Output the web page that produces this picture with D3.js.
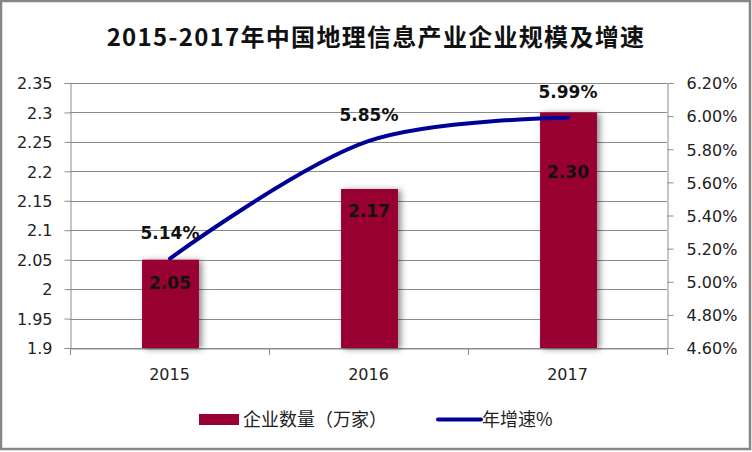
<!DOCTYPE html>
<html><head><meta charset="utf-8">
<script src="https://cdn.jsdelivr.net/npm/d3@7"></script>
<style>body{margin:0;background:#fff}svg{display:block}text{font-family:"DejaVu Sans","Noto Sans CJK SC",sans-serif}</style>
</head><body><svg id="c" width="752" height="452"></svg>
<script>
const categories = ["2015","2016","2017"];
const companies = [2.05, 2.17, 2.30];
const growth = [5.14, 5.85, 5.99];
const leftTicks = [1.9,1.95,2,2.05,2.1,2.15,2.2,2.25,2.3,2.35];
const rightTicks = [4.6,4.8,5.0,5.2,5.4,5.6,5.8,6.0,6.2];
const title = "2015-2017年中国地理信息产业企业规模及增速";
const legendNames = ["企业数量（万家）","年增速%"];

const svg = d3.select("#c");
const m = {l:70, r:667, t:83, b:348};
const x = d3.scaleBand().domain(categories).range([m.l, m.r]);
const yL = d3.scaleLinear().domain([1.9, 2.35]).range([m.b, m.t]);
const yR = d3.scaleLinear().domain([4.6, 6.2]).range([m.b, m.t]);
const grid = "#8c8c8c";

const defs = svg.append("defs");
const f = defs.append("filter").attr("id","sh").attr("x","-30%").attr("y","-30%").attr("width","160%").attr("height","160%");
f.append("feDropShadow").attr("dx",3).attr("dy",1).attr("stdDeviation",3).attr("flood-color","#000").attr("flood-opacity",0.45);

svg.append("rect").attr("x",1).attr("y",1).attr("width",749).attr("height",448).attr("fill","#fff").attr("stroke","#868686").attr("stroke-width",2.5);

svg.append("text").attr("x",376).attr("y",46).attr("text-anchor","middle")
  .style("font-family","'Noto Sans CJK SC',sans-serif").style("font-weight","bold").style("font-size","24px").style("letter-spacing","1.3px").attr("fill","#111").text(title);

// gridlines
svg.append("g").selectAll("line").data(leftTicks).join("line")
  .attr("x1",m.l).attr("x2",m.r).attr("y1",d=>Math.round(yL(d))+0.5).attr("y2",d=>Math.round(yL(d))+0.5)
  .attr("stroke",grid).attr("stroke-width",1);

// axes
const la = svg.append("g").attr("transform",`translate(${m.l+0.5},0)`)
  .call(d3.axisLeft(yL).tickValues(leftTicks).tickFormat(d=>String(d)).tickSize(6).tickPadding(12));
const ra = svg.append("g").attr("transform",`translate(${m.r+0.5},0)`)
  .call(d3.axisRight(yR).tickValues(rightTicks).tickFormat(d=>d.toFixed(2)+"%").tickSize(6).tickPadding(13));
const xa = svg.append("g").attr("transform",`translate(0,${m.b+0.5})`)
  .call(d3.axisBottom(x).tickSize(0).tickPadding(20));
[la,ra,xa].forEach(g=>{
  g.select(".domain").attr("stroke",grid);
  g.selectAll(".tick line").attr("stroke",grid);
  g.selectAll("text").style("font-size","16px").attr("fill","#222").style("font-family","'DejaVu Sans',sans-serif");
});
la.selectAll(".tick text").attr("dy","0.36em");
ra.selectAll(".tick text").attr("dy","0.36em");
const bounds = categories.map(c=>x(c)).concat([m.r]);
svg.append("g").selectAll("line").data(bounds).join("line")
  .attr("x1",d=>Math.round(d)+0.5).attr("x2",d=>Math.round(d)+0.5).attr("y1",m.b).attr("y2",m.b+7).attr("stroke",grid);

// bars
const bw = x.bandwidth()*0.286;
svg.append("g").selectAll("rect").data(companies).join("rect")
  .attr("x",(d,i)=>x(categories[i])+x.bandwidth()/2-bw/2+1).attr("width",bw)
  .attr("y",d=>yL(d)).attr("height",d=>m.b-yL(d)).attr("fill","#990033").attr("filter","url(#sh)");

// line
const pts = growth.map((g,i)=>[x(categories[i])+x.bandwidth()/2+0.5, yR(g)]);
svg.append("path").datum(pts).attr("d",d3.line().curve(d3.curveCatmullRom.alpha(0.5)))
  .attr("fill","none").attr("stroke","#000099").attr("stroke-width",4).attr("stroke-linecap","round");

// labels (the last bar label is pushed lower to clear the line)
const barLabelOffset = [29, 28, 66];
svg.append("g").selectAll("text").data(companies).join("text")
  .attr("x",(d,i)=>x(categories[i])+x.bandwidth()/2+0.5).attr("y",(d,i)=>yL(d)+barLabelOffset[i])
  .attr("text-anchor","middle").style("font-weight","bold").style("font-size","17px").attr("fill","#111")
  .text(d=>d.toFixed(2));
svg.append("g").selectAll("text").data(growth).join("text")
  .attr("x",(d,i)=>x(categories[i])+x.bandwidth()/2+0.5).attr("y",d=>yR(d)-20)
  .attr("text-anchor","middle").style("font-weight","bold").style("font-size","17px").attr("fill","#111")
  .text(d=>d.toFixed(2)+"%");

// legend
const lg = svg.append("g");
lg.append("rect").attr("x",199).attr("y",414).attr("width",40).attr("height",11).attr("fill","#990033");
lg.append("text").attr("x",243).attr("y",426).style("font-family","'Noto Sans CJK SC',sans-serif").style("font-size","18px").attr("fill","#222").text(legendNames[0]);
lg.append("line").attr("x1",438).attr("x2",481).attr("y1",419.5).attr("y2",419.5).attr("stroke","#000099").attr("stroke-width",4).attr("stroke-linecap","round");
lg.append("text").attr("x",482).attr("y",426).style("font-family","'Noto Sans CJK SC',sans-serif").style("font-size","18px").attr("fill","#222").text(legendNames[1]);
</script></body></html>
